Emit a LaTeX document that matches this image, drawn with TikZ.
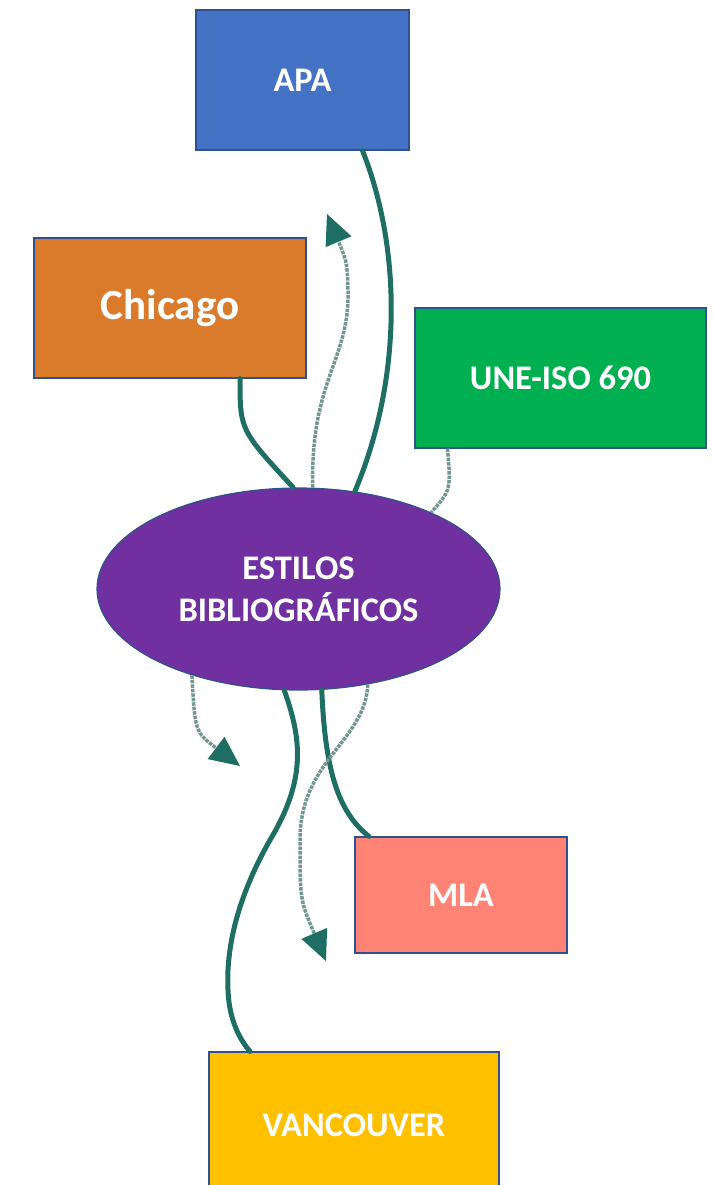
\documentclass[tikz,border=0pt]{standalone}
\usepackage{fontspec}
\setmainfont{Carlito}
\usetikzlibrary{arrows.meta,shapes.geometric,calc}
\definecolor{edgeblue}{RGB}{47,82,143}
\definecolor{apablue}{RGB}{68,114,196}
\definecolor{chicorange}{RGB}{217,123,43}
\definecolor{unegreen}{RGB}{0,176,80}
\definecolor{ellpurple}{RGB}{112,48,160}
\definecolor{mlasalmon}{RGB}{255,132,118}
\definecolor{vanyellow}{RGB}{255,192,0}
\definecolor{teal}{RGB}{31,110,100}
\definecolor{dotteal}{RGB}{115,150,146}
\tikzset{
  box/.style={draw=edgeblue, line width=1.2pt, rectangle, inner sep=0pt,
    text=white, font=\bfseries\fontsize{34.5}{42}\selectfont},
  solidlink/.style={draw=teal, line width=5pt, line cap=round},
  dotlink/.style={draw=dotteal, line width=3.5pt, densely dotted,
    -{Triangle[length=30pt,width=28pt,fill=teal,color=teal,line width=0pt]}},
  dotplain/.style={draw=dotteal, line width=3.5pt, densely dotted}
}
\begin{document}
\begin{tikzpicture}[x=1pt,y=-1pt]
\useasboundingbox (0,0) rectangle (712,1185);
% nodes
\node[box, fill=apablue, minimum width=213pt, minimum height=140pt] (apa) at (302.5,80) {APA};
\node[box, fill=chicorange, minimum width=272pt, minimum height=140pt,
      font=\bfseries\fontsize{43}{50}\selectfont] (chicago) at (170,308) {Chicago};
\node[box, fill=unegreen, minimum width=291pt, minimum height=140pt] (une) at (560.5,378) {UNE-ISO 690};
\node[box, fill=ellpurple, ellipse, minimum width=403pt, minimum height=202pt, align=center,
      font=\bfseries\fontsize{34.5}{42}\selectfont] (ell) at (298.5,589) {ESTILOS\\BIBLIOGRÁFICOS};
\node[box, fill=mlasalmon, minimum width=212pt, minimum height=116pt] (mla) at (461,895) {MLA};
\node[box, fill=vanyellow, minimum width=290pt, minimum height=146pt] (van) at (354,1125) {VANCOUVER};
% free ends of the dotted arrows
\coordinate (tipA) at (327,214);
\coordinate (tipB) at (240,766);
\coordinate (tipC) at (326,961);
% solid connectors
\draw[solidlink] (ell.60) .. controls (402,380) and (402,250) .. ([xshift=60pt]apa.south);
\draw[solidlink] ([xshift=70pt]chicago.south) .. controls (240,430) .. (ell.93);
\draw[solidlink] (ell.262) .. controls (302,740) and (306,780) .. (270,840)
   .. controls (236,900) and (226,950) .. (228,990)
   .. controls (229,1020) and (240,1040) .. ([xshift=-104pt]van.north);
\draw[solidlink] (ell.283) .. controls (325,770) and (338,812) .. ([xshift=-92pt]mla.north);
% dotted connectors
\draw[dotlink] (ell.82) .. controls (310,380) and (350,360) .. (348,290)
   .. controls (347,262) .. (tipA);
\draw[dotplain] ([xshift=-113pt]une.south) .. controls (451,490) .. (ell.30);
\draw[dotlink] (ell.219) .. controls (195,732) .. (tipB);
\draw[dotlink] (ell.306) .. controls (365,742) and (300,760) .. (300,840)
   .. controls (300,900) .. (tipC);
\end{tikzpicture}
\end{document}
